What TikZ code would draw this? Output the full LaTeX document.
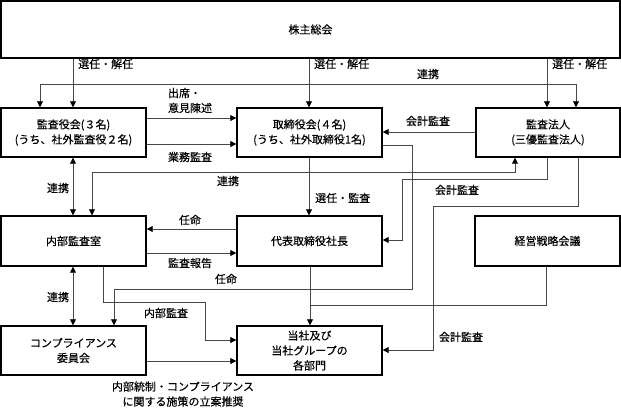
\documentclass[tikz,border=0pt]{standalone}
\usepackage{fontspec}
\setmainfont{Noto Sans CJK JP}[FakeBold=0.35]
\usetikzlibrary{arrows.meta}
\begin{document}
\begin{tikzpicture}[x=1pt,y=-1pt,
  box/.style={draw=black, line width=1.4pt, minimum width=145pt, minimum height=49pt, inner sep=0pt, align=center, font=\fontsize{11}{15}\selectfont},
  conn/.style={draw=black!72, line width=0.8pt},
  tipx/.tip={Triangle[length=6pt,width=6pt,color=black]},
  arr/.style={conn, -tipx},
  darr/.style={conn, tipx-tipx},
  lbl/.style={font=\fontsize{11}{15}\selectfont, inner sep=0pt, align=center},
]
\useasboundingbox (0,0) rectangle (621,408);
% boxes
\node[box, minimum width=619pt, minimum height=57pt] (kabu) at (310.5,29.5) {株主総会};
\node[box] (kansayaku) at (73.5,132.5) {監査役会(３名)\\(うち、社外監査役２名)};
\node[box] (torishimari) at (309.5,132.5) {取締役会(４名)\\(うち、社外取締役1名)};
\node[box, minimum width=144pt] (hojin) at (548,132.5) {監査法人\\(三優監査法人)};
\node[box, minimum height=50pt] (naibu) at (73.5,241) {内部監査室};
\node[box, minimum height=50pt] (daihyo) at (309.5,241) {代表取締役社長};
\node[box, minimum height=50pt] (keiei) at (547.5,241) {経営戦略会議};
\node[box] (comp) at (73.5,350.5) {コンプライアンス\\委員会};
\node[box] (bumon) at (309.5,350.5) {当社及び\\当社グループの\\各部門};
% shareholders
\draw[arr] (kabu.south -| 73,0) -- (kansayaku.north -| 73,0);
\node[lbl, anchor=west] (l1) at (78,64) {選任・解任};
\draw[arr] (kabu.south -| 309,0) -- (torishimari.north -| 309,0);
\node[lbl, anchor=west] (l2) at (314,64) {選任・解任};
\draw[arr] (kabu.south -| 547,0) -- (hojin.north -| 547,0);
\node[lbl, anchor=west] (l3) at (552,64) {選任・解任};
\draw[darr] (kansayaku.north -| 40,0) -- (40,84) -- (576,84) -- (hojin.north -| 576,0);
\node[lbl] (l4) at (428,74) {連携};
% row 2
\draw[arr] (kansayaku.east |- 0,118) -- (torishimari.west |- 0,118);
\node[lbl, align=left] (l5) at (190,100.5) {出席・\\意見陳述};
\draw[arr] (kansayaku.east |- 0,144) -- (torishimari.west |- 0,144);
\node[lbl] (l6) at (190,157) {業務監査};
\draw[arr] (hojin.west |- 0,132) -- (torishimari.east |- 0,132);
\node[lbl] (l7) at (428,121) {会計監査};
\draw[darr] (kansayaku.south -| 73,0) -- (naibu.north -| 73,0);
\node[lbl] (l8) at (58,188) {連携};
\draw[darr] (naibu.north -| 92,0) -- (92,172) -- (515,172) -- (hojin.south -| 515,0);
\node[lbl] (l9) at (228,181) {連携};
\draw[arr] (torishimari.south -| 309,0) -- (daihyo.north -| 309,0);
\node[lbl, anchor=west] (l10) at (315,198) {選任・監査};
\draw[arr] (hojin.south -| 547,0) -- (547,179) -- (402,179) -- (402,240) -- (daihyo.east |- 0,240);
\node[lbl] (l11) at (457,190) {会計監査};
\draw[arr] (hojin.south -| 578,0) -- (578,206) -- (433,206) -- (433,350) -- (bumon.east |- 0,350);
\node[lbl] (l12) at (461,337) {会計監査};
\draw[arr] (torishimari.east |- 0,145) -- (412,145) -- (412,289) -- (114,289) -- (comp.north -| 114,0);
\node[lbl] (l13) at (226,279) {任命};
% row 3
\draw[arr] (daihyo.west |- 0,229) -- (naibu.east |- 0,229);
\node[lbl] (l14) at (190,220) {任命};
\draw[arr] (naibu.east |- 0,253) -- (daihyo.west |- 0,253);
\node[lbl] (l15) at (190,263) {監査報告};
\draw[arr] (daihyo.south -| 310,0) -- (bumon.north -| 310,0);
\draw[conn] (keiei.south -| 546,0) -- (546,305) -- (310,305);
\draw[arr] (naibu.south -| 103,0) -- (103,302) -- (205,302) -- (205,340) -- (bumon.west |- 0,340);
\node[lbl] (l16) at (166,313) {内部監査};
\draw[darr] (naibu.south -| 73,0) -- (comp.north -| 73,0);
\node[lbl] (l17) at (58,297) {連携};
% row 4
\draw[arr] (comp.east |- 0,361) -- (bumon.west |- 0,361);
\node[lbl] (l18) at (183,394) {内部統制・コンプライアンス\\に関する施策の立案推奨};
\end{tikzpicture}
\end{document}
